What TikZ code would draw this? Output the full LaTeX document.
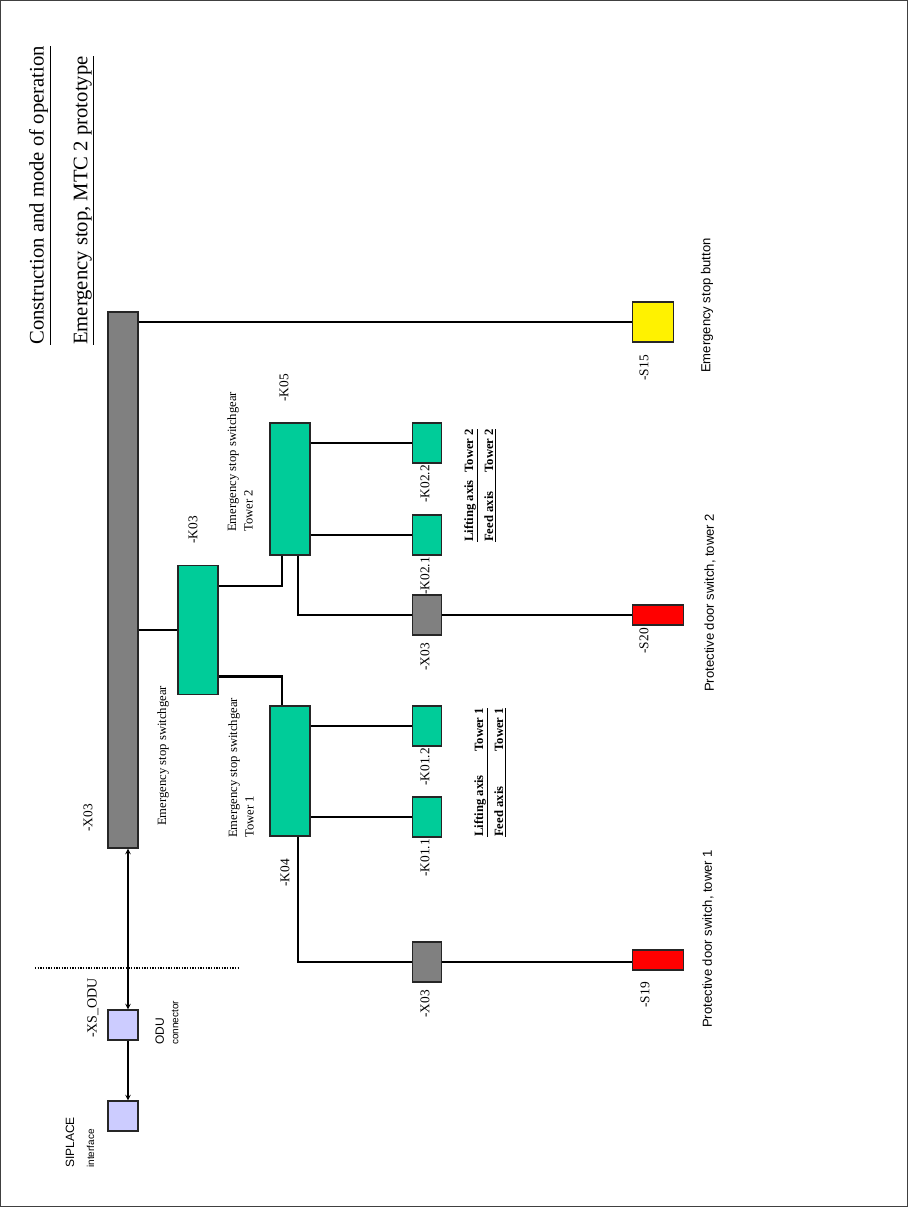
\documentclass[tikz,border=0pt]{standalone}
\usepackage{fontspec}
\setmainfont{Liberation Serif}
\newfontfamily\arialfont{Liberation Sans}
\definecolor{swgreen}{RGB}{0,204,153}
\definecolor{plugblue}{RGB}{204,204,255}
\definecolor{bargray}{RGB}{128,128,128}

\begin{document}
\begin{tikzpicture}[x=0.75pt,y=-0.75pt,>=stealth,
    unit/.style={draw=black!85,line width=1.1pt,inner sep=0pt},
    wire/.style={line width=0.8pt},
    bus/.style={line width=2pt},
    lbl/.style={rotate=90,inner sep=0pt,font=\fontsize{10}{12}\selectfont},
    note/.style={rotate=90,inner sep=0pt,align=left,font=\fontsize{9.5}{12.5}\selectfont},
    hint/.style={rotate=90,inner sep=0pt,anchor=west,font=\arialfont\fontsize{9.8}{11}\selectfont},
    title/.style={rotate=90,inner sep=0pt,anchor=west,font=\fontsize{15.5}{18}\selectfont}]
    \useasboundingbox (0,0) rectangle (908,1207);
    \draw[black!75,line width=1pt] (0.7,0.7) rectangle (907.3,1206.3);
    % titles
    \node[title] (ttl) at (40,345) {\underline{Construction and mode of operation}};
    \node[title] (sub) at (84,345) {\underline{Emergency stop, MTC 2 prototype}};
    % boxes
    \node[unit,fill=bargray,minimum width=22.5pt,minimum height=402pt] (bar) at (123,580) {};
    \node[unit,fill=swgreen,minimum width=30pt,minimum height=97pt] (K03) at (198,630) {};
    \node[unit,fill=swgreen,minimum width=30pt,minimum height=99pt] (K05) at (290,489) {};
    \node[unit,fill=swgreen,minimum width=30pt,minimum height=97.5pt] (K04) at (290,771) {};
    \node[unit,fill=swgreen,minimum width=22pt,minimum height=30pt] (K022) at (427,443) {};
    \node[unit,fill=swgreen,minimum width=22pt,minimum height=30pt] (K021) at (427,535) {};
    \node[unit,fill=swgreen,minimum width=22pt,minimum height=30pt] (K012) at (427,726) {};
    \node[unit,fill=swgreen,minimum width=22pt,minimum height=30pt] (K011) at (427,817) {};
    \node[unit,fill=bargray,minimum width=22pt,minimum height=30pt] (X03b) at (427,615) {};
    \node[unit,fill=bargray,minimum width=22pt,minimum height=30pt] (X03a) at (427,962) {};
    \node[unit,fill=yellow,minimum width=30.75pt,minimum height=30pt] (S15) at (653,322) {};
    \node[unit,fill=red,minimum width=38.25pt,minimum height=15pt] (S20) at (658,615) {};
    \node[unit,fill=red,minimum width=38.25pt,minimum height=15pt] (S19) at (658,960) {};
    \node[unit,fill=plugblue,minimum width=22.5pt,minimum height=22.5pt] (odu) at (123,1025) {};
    \node[unit,fill=plugblue,minimum width=22.5pt,minimum height=22.5pt] (sip) at (123,1116) {};
    % connections
    \draw[wire] (bar.east |- S15.west) -- (S15.west);
    \draw[bus] (bar.east |- K03.west) -- (K03.west);
    \draw[bus] ([yshift=33pt]K03.east) -| ([xshift=-6pt]K05.south);
    \draw[bus] ([yshift=-35pt]K03.east) -| ([xshift=-6pt]K04.north);
    \draw[wire] (K05.east |- K022.west) -- (K022.west);
    \draw[wire] (K05.east |- K021.west) -- (K021.west);
    \draw[wire] (K04.east |- K012.west) -- (K012.west);
    \draw[wire] (K04.east |- K011.west) -- (K011.west);
    \draw[wire] ([xshift=6pt]K05.south) |- (X03b.west);
    \draw[wire] ([xshift=6pt]K04.south) |- (X03a.west);
    \draw[wire] (X03b.east) -- (X03b.east -| S20.west);
    \draw[wire] (X03a.east) -- (X03a.east -| S19.west);
    \draw[wire,<->] ([xshift=3.75pt]bar.south) -- ([xshift=3.75pt]odu.north);
    \draw[wire,->] ([xshift=3.75pt]odu.south) -- ([xshift=3.75pt]sip.north);
    \draw[densely dotted,line width=1pt] (35,968) -- (238,968);
    % labels
    \node[lbl] (lbar) at (88,818) {-X03};
    \node[lbl] (lK03) at (193,530) {-K03};
    \node[lbl] (lK05) at (284,388) {-K05};
    \node[lbl] (lK04) at (285,873) {-K04};
    \node[lbl,anchor=east] (lK022) at (425,465) {-K02.2};
    \node[lbl,anchor=east] (lK021) at (425,557) {-K02.1};
    \node[lbl,anchor=east] (lK012) at (425,748) {-K01.2};
    \node[lbl,anchor=east] (lK011) at (425,839) {-K01.1};
    \node[lbl,anchor=east] (lX03b) at (425,643) {-X03};
    \node[lbl,anchor=east] (lX03a) at (425,990) {-X03};
    \node[lbl,anchor=east] (lS15) at (644,355) {-S15};
    \node[lbl,anchor=east] (lS20) at (644,628) {-S20};
    \node[lbl,anchor=east] (lS19) at (645,982) {-S19};
    \node[note,anchor=west] (dK03) at (163,826) {Emergency stop switchgear};
    \node[note,anchor=west] (dK05) at (240,532) {Emergency stop switchgear\\Tower 2};
    \node[note,anchor=west] (dK04) at (241,838) {Emergency stop switchgear\\Tower 1};
    \node[note,anchor=west,font=\bfseries\fontsize{9.5}{15}\selectfont] (axes2) at (480,542)
        {\underline{\makebox[52pt][l]{Lifting axis}Tower 2}\\\underline{\makebox[52pt][l]{Feed axis}Tower 2}};
    \node[note,anchor=west,font=\bfseries\fontsize{9.5}{15}\selectfont] (axes1) at (490,837)
        {\underline{\makebox[64pt][l]{Lifting axis}Tower 1}\\\underline{\makebox[64pt][l]{Feed axis}Tower 1}};
    \node[hint] (dS15) at (707,373) {Emergency stop button};
    \node[hint] (dS20) at (710,692) {Protective door switch, tower 2};
    \node[hint] (dS19) at (708,1028) {Protective door switch, tower 1};
    \node[lbl,font=\fontsize{10.5}{12}\selectfont] (lodu) at (93,1008) {-XS\_ODU};
    \node[hint,align=left,font=\arialfont\fontsize{9}{11}\selectfont] (dodu) at (167,1045)
        {ODU\\{\fontsize{7.5}{9}\selectfont connector}};
    \node[hint,align=left,font=\arialfont\fontsize{9}{15}\selectfont] (dsip) at (80,1168)
        {SIPLACE\\{\fontsize{7.5}{9}\selectfont interface}};
\end{tikzpicture}
\end{document}
